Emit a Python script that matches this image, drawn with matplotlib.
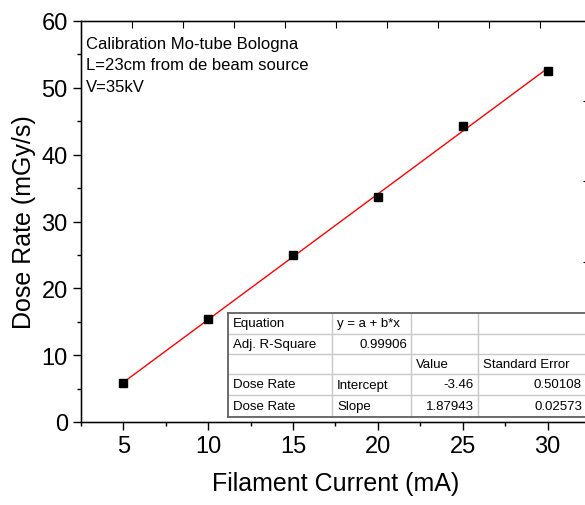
import matplotlib
matplotlib.use("Agg")
import matplotlib.pyplot as plt
import numpy as np
from matplotlib.lines import Line2D

plt.rcParams['font.family'] = ['Liberation Sans', 'DejaVu Sans']

# data
current = [5, 10, 15, 20, 25, 30]
dose_rate = [5.8, 15.4, 25.0, 33.6, 44.3, 52.5]
intercept = -3.46
slope = 1.87943

note_lines = ["Calibration Mo-tube Bologna",
              "L=23cm from de beam source",
              "V=35kV"]

table_rows = [
    ["Equation", "y = a + b*x", "", ""],
    ["Adj. R-Square", "0.99906", "", ""],
    ["", "", "Value", "Standard Error"],
    ["Dose Rate", "Intercept", "-3.46", "0.50108"],
    ["Dose Rate", "Slope", "1.87943", "0.02573"],
]
table_align = [
    ["left", "left", "left", "left"],
    ["left", "right", "left", "left"],
    ["left", "left", "left", "left"],
    ["left", "left", "right", "right"],
    ["left", "left", "right", "right"],
]

W, H = 585, 506
fig = plt.figure(figsize=(W / 100, H / 100), dpi=100)
ax = fig.add_axes([81 / W, (H - 423) / H, 509 / W, 401 / H])

xfit = np.array([5, 30])
ax.plot(xfit, intercept + slope * xfit, color='red', lw=1, zorder=2)
ax.plot(current, dose_rate, 's', color='black', ms=6, zorder=3)

ax.set_xlim(2.5, 32.5)
ax.set_ylim(0, 60)
ax.set_xticks([5, 10, 15, 20, 25, 30])
ax.set_xticks(np.arange(2.5, 33, 2.5), minor=True)
ax.set_yticks([0, 10, 20, 30, 40, 50, 60])
ax.set_yticks(np.arange(5, 60, 10), minor=True)
ax.tick_params(which='major', direction='out', length=6, width=1, labelsize=17)
ax.tick_params(which='minor', direction='out', length=3, width=1)
ax.set_xlabel("Filament Current (mA)", fontsize=18, labelpad=10)
ax.set_ylabel("Dose Rate (mGy/s)", fontsize=18, labelpad=4)
for s in ax.spines.values():
    s.set_linewidth(1.0)

# top and right ticks
axt = ax.twiny()
axt.set_xlim(ax.get_xlim())
axt.set_xticks(np.arange(5.53, 30.0, 3.0))
axt.tick_params(direction='in', length=5, labeltop=False)
axr = ax.twinx()
axr.set_ylim(ax.get_ylim())
axr.set_yticks([12, 24, 36, 48])
axr.tick_params(direction='in', length=5, labelright=False)

ax.text(0.01, 0.963, "\n".join(note_lines), transform=ax.transAxes,
        fontsize=12, va='top', ha='left', linespacing=1.55)

# fit results table, drawn in figure pixels
cols = [228, 332, 411, 478, 592]
rows = [314, 335, 355, 375, 396, 418]


def fx(px):
    return px / W


def fy(py):
    return 1 - py / H


fig.patches.append(plt.Rectangle((fx(cols[0]), fy(rows[-1])),
                                 fx(cols[-1] - cols[0]), (rows[-1] - rows[0]) / H,
                                 transform=fig.transFigure, facecolor='white',
                                 edgecolor='none', zorder=4))
for c in cols[1:-1]:
    fig.lines.append(Line2D([fx(c), fx(c)], [fy(rows[0]), fy(rows[-1])],
                            transform=fig.transFigure, color='#c8c8c8', lw=1, zorder=5))
for r in rows[1:-1]:
    fig.lines.append(Line2D([fx(cols[0]), fx(cols[-1])], [fy(r), fy(r)],
                            transform=fig.transFigure, color='#c8c8c8', lw=1, zorder=5))
for xs, ys in [([cols[0], cols[-1]], [rows[0], rows[0]]),
               ([cols[0], cols[-1]], [rows[-1], rows[-1]]),
               ([cols[0], cols[0]], [rows[0], rows[-1]])]:
    fig.lines.append(Line2D([fx(x) for x in xs], [fy(y) for y in ys],
                            transform=fig.transFigure, color='#606060', lw=1.3, zorder=6))

for i, row in enumerate(table_rows):
    yc = (rows[i] + rows[i + 1]) / 2
    for j, txt in enumerate(row):
        if not txt:
            continue
        if table_align[i][j] == 'left':
            xpos = cols[j] + 5
        else:
            xpos = min(cols[j + 1], 586) - 4
        fig.text(fx(xpos), fy(yc), txt, fontsize=9.5, ha=table_align[i][j],
                 va='center', zorder=7)

fig.savefig("out.png", dpi=100)
